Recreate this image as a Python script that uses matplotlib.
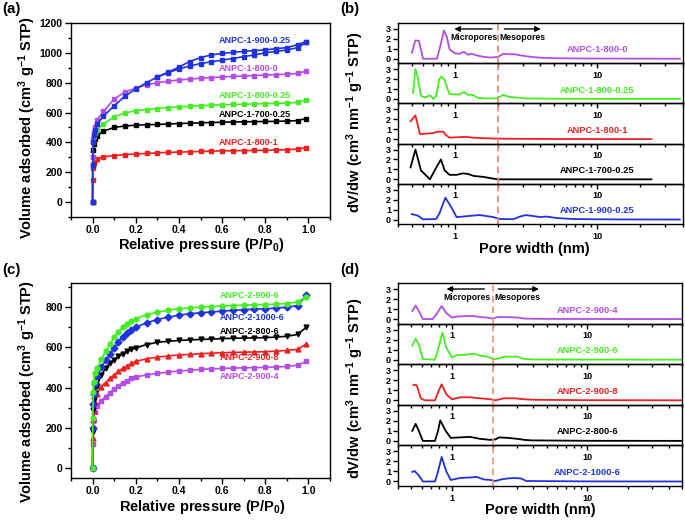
import numpy as np
import matplotlib.pyplot as plt
from matplotlib.ticker import MultipleLocator, FixedLocator, NullFormatter, FixedFormatter

plt.rcParams['font.family'] = ['Liberation Sans', 'DejaVu Sans']
plt.rcParams['font.weight'] = 'bold'
plt.rcParams['mathtext.fontset'] = 'custom'
plt.rcParams['mathtext.rm'] = 'Liberation Sans:bold'
plt.rcParams['mathtext.it'] = 'Liberation Sans:bold'
plt.rcParams['mathtext.bf'] = 'Liberation Sans:bold'
plt.rcParams['mathtext.default'] = 'rm'

W, H = 685, 523

VIOLET = '#b44ce6'
GREEN = '#44ee22'
RED = '#ee2020'
BLUE = '#1f33dd'
BLACK = '#000000'

# ---- (a) N2 isotherms, series 1 ----
p_a = [0.0, 0.001, 0.003, 0.005, 0.01, 0.02, 0.05, 0.10, 0.15, 0.20, 0.25, 0.30, 0.35,
       0.40, 0.45, 0.50, 0.55, 0.60, 0.65, 0.70, 0.75, 0.80, 0.85, 0.90, 0.95, 0.99]
a_800_1 = [0, 150, 230, 260, 280, 290, 302, 312, 318, 322, 326, 330, 333, 335, 337, 339,
           341, 343, 344, 345, 346, 347, 349, 351, 355, 365]
a_700_025 = [0, 250, 350, 390, 420, 445, 475, 500, 510, 515, 518, 520, 523, 526, 529, 531,
             533, 535, 537, 538, 539, 540, 541, 543, 546, 560]
a_800_025 = [0, 300, 400, 440, 460, 480, 525, 570, 598, 612, 620, 627, 633, 638, 642, 646,
             649, 652, 654, 656, 658, 660, 662, 664, 668, 687]
a_800_0 = [0, 300, 420, 470, 500, 550, 607, 690, 738, 763, 785, 800, 810, 818, 824, 830,
           834, 838, 842, 845, 848, 851, 854, 857, 862, 878]
a_900_025 = [0, 250, 400, 450, 480, 520, 575, 645, 710, 758, 800, 838, 867, 892, 912, 928,
             940, 951, 962, 975, 986, 1000, 1010, 1019, 1035, 1070]
p_a_des = [0.99, 0.95, 0.90, 0.85, 0.80, 0.75, 0.70, 0.65, 0.60, 0.55, 0.50, 0.45, 0.40, 0.35, 0.30]
a_900_025_des = [1075, 1055, 1035, 1028, 1020, 1015, 1010, 1003, 996, 986, 968, 942, 905, 870, 840]

a_labels = ['ANPC-1-900-0.25', 'ANPC-1-800-0', 'ANPC-1-800-0.25', 'ANPC-1-700-0.25', 'ANPC-1-800-1']
a_label_y = [1082, 894, 713, 589, 401]
a_colors = [BLUE, VIOLET, GREEN, BLACK, RED]

# ---- (c) N2 isotherms, series 2 ----
p_c = [0.0, 0.001, 0.003, 0.005, 0.01, 0.02, 0.04, 0.06, 0.08, 0.10, 0.12, 0.14, 0.16, 0.18,
       0.20, 0.25, 0.30, 0.35, 0.40, 0.45, 0.50, 0.55, 0.60, 0.65, 0.70, 0.75, 0.80, 0.85,
       0.90, 0.95, 0.99]
c_900_6 = [0, 250, 380, 430, 470, 495, 540, 580, 615, 650, 678, 700, 718, 730, 742, 762, 775,
           785, 792, 797, 800, 803, 806, 808, 810, 812, 813, 815, 818, 826, 850]
c_1000_6 = [0, 200, 320, 370, 420, 455, 500, 535, 565, 598, 628, 652, 672, 688, 700, 722, 738,
            750, 760, 767, 772, 776, 780, 784, 787, 790, 792, 795, 800, 808, 858]
c_800_6 = [0, 180, 290, 340, 375, 410, 460, 495, 520, 538, 555, 568, 580, 590, 597, 614, 625,
           630, 634, 637, 639, 641, 643, 645, 646, 647, 648, 651, 655, 664, 700]
c_900_8 = [0, 150, 240, 285, 330, 370, 405, 425, 445, 462, 480, 495, 508, 520, 530, 543, 551,
           557, 562, 565, 568, 571, 573, 575, 576, 577, 578, 581, 585, 590, 617]
c_900_4 = [0, 120, 200, 240, 280, 310, 335, 355, 375, 394, 410, 423, 435, 445, 452, 463, 470,
           477, 482, 486, 490, 493, 495, 497, 498, 499, 500, 502, 505, 511, 530]

c_labels = ['ANPC-2-900-6', 'ANPC-2-1000-6', 'ANPC-2-800-6', 'ANPC-2-900-8', 'ANPC-2-900-4']
c_label_y = [858, 747, 681, 547, 455]
c_colors = [GREEN, BLUE, BLACK, RED, VIOLET]

# ---- (b) pore size distributions, series 1 (top to bottom) ----
b_x = [
    [0.50, 0.53, 0.56, 0.60, 0.75, 0.79, 0.84, 0.88, 0.92, 1.00, 1.08, 1.16, 1.24, 1.30, 1.35,
     1.46, 1.58, 1.76, 1.91, 2.02, 2.19, 2.44, 2.64, 3.0, 3.4, 4.0, 5.2, 6.8, 10, 20, 38],
    [0.51, 0.53, 0.55, 0.58, 0.62, 0.67, 0.71, 0.74, 0.78, 0.81, 0.85, 0.88, 0.92, 1.0, 1.08,
     1.16, 1.24, 1.31, 1.38, 1.46, 1.67, 1.97, 2.19, 2.44, 3.2, 5, 10, 38],
    [0.49, 0.53, 0.57, 0.62, 0.70, 0.76, 0.83, 0.87, 0.92, 1.08, 1.2, 1.35, 1.58, 1.97, 3.0, 6, 24],
    [0.49, 0.53, 0.58, 0.67, 0.73, 0.80, 0.85, 0.92, 1.03, 1.14, 1.24, 1.35, 1.58, 1.81, 2.02, 5, 24],
    [0.50, 0.55, 0.60, 0.74, 0.78, 0.86, 0.95, 1.03, 1.14, 1.35, 1.50, 1.67, 1.86, 2.07, 2.57,
     2.87, 3.16, 3.56, 3.97, 4.4, 5.2, 6.8, 8.9, 15, 38],
]
b_y = [
    [0.60, 1.85, 1.8, 0.0, 0.0, 1.2, 2.85, 2.2, 0.95, 0.55, 0.5, 0.7, 0.4, 0.5, 0.45,
     0.3, 0.2, 0.12, 0.15, 0.2, 0.5, 0.45, 0.45, 0.3, 0.2, 0.1, 0.05, 0.03, 0.02, 0.01, 0.0],
    [0.6, 3.0, 2.2, 0.3, 0.15, 0.37, 0.0, 0.3, 2.0, 2.25, 1.9, 1.2, 0.5, 0.45, 0.45,
     0.7, 0.4, 0.45, 0.3, 0.1, 0.05, 0.05, 0.4, 0.2, 0.05, 0.02, 0.01, 0.0],
    [1.8, 2.4, 0.5, 0.55, 0.6, 0.75, 0.75, 0.4, 0.15, 0.2, 0.22, 0.15, 0.1, 0.05, 0.03, 0.01, 0.0],
    [1.2, 3.0, 0.9, 0.0, 1.0, 2.0, 0.9, 0.45, 0.45, 0.6, 0.55, 0.35, 0.25, 0.1, 0.0, 0.0, 0.0],
    [0.55, 0.4, 0.02, 0.05, 0.6, 2.2, 1.2, 0.25, 0.3, 0.4, 0.45, 0.35, 0.25, 0.05, 0.03,
     0.3, 0.45, 0.35, 0.25, 0.3, 0.15, 0.05, 0.03, 0.01, 0.0],
]
b_labels = ['ANPC-1-800-0', 'ANPC-1-800-0.25', 'ANPC-1-800-1', 'ANPC-1-700-0.25', 'ANPC-1-900-0.25']
b_colors = [VIOLET, GREEN, RED, BLACK, BLUE]

# ---- (d) pore size distributions, series 2 (top to bottom) ----
d_x = [
    [0.51, 0.54, 0.57, 0.61, 0.72, 0.77, 0.84, 0.91, 1.0, 1.08, 1.29, 1.45, 1.62, 1.82, 1.99,
     2.17, 2.58, 3.07, 3.44, 4.6, 10, 50],
    [0.51, 0.54, 0.57, 0.61, 0.75, 0.79, 0.85, 0.91, 1.0, 1.08, 1.29, 1.45, 1.62, 1.82, 2.04,
     2.17, 2.43, 2.73, 3.07, 3.34, 3.86, 10, 50],
    [0.52, 0.55, 0.59, 0.63, 0.75, 0.79, 0.84, 0.91, 1.0, 1.15, 1.36, 1.62, 1.93, 2.1, 2.43,
     2.89, 3.44, 4.1, 10, 50],
    [0.51, 0.54, 0.57, 0.61, 0.75, 0.79, 0.82, 0.90, 0.98, 1.15, 1.36, 1.62, 1.93, 2.1, 2.23,
     2.58, 3.07, 3.44, 3.86, 10, 50],
    [0.51, 0.53, 0.57, 0.61, 0.75, 0.79, 0.84, 0.91, 0.98, 1.15, 1.36, 1.53, 1.72, 1.93, 2.1,
     2.3, 2.58, 2.89, 3.24, 3.54, 10, 50],
]
d_y = [
    [0.8, 1.35, 0.8, 0.0, 0.0, 0.5, 1.3, 0.6, 0.15, 0.25, 0.3, 0.3, 0.2, 0.15, 0.05,
     0.2, 0.2, 0.15, 0.05, 0.02, 0.01, 0.0],
    [1.4, 2.1, 1.5, 0.05, 0.0, 1.0, 2.7, 1.2, 0.2, 0.45, 0.5, 0.6, 0.4, 0.3, 0.05,
     0.1, 0.3, 0.3, 0.3, 0.1, 0.02, 0.01, 0.0],
    [1.55, 1.5, 0.2, 0.0, 0.0, 0.8, 1.6, 0.6, 0.1, 0.3, 0.3, 0.2, 0.1, 0.0, 0.2,
     0.2, 0.1, 0.05, 0.01, 0.0],
    [1.0, 1.7, 1.0, 0.0, 0.0, 1.0, 2.05, 1.0, 0.3, 0.35, 0.4, 0.2, 0.1, 0.15, 0.35,
     0.3, 0.2, 0.1, 0.05, 0.01, 0.0],
    [0.95, 1.05, 0.6, 0.0, 0.0, 1.0, 2.45, 1.0, 0.15, 0.35, 0.4, 0.45, 0.2, 0.15, 0.05,
     0.2, 0.3, 0.35, 0.3, 0.05, 0.01, 0.0],
]
d_labels = ['ANPC-2-900-4', 'ANPC-2-900-6', 'ANPC-2-900-8', 'ANPC-2-800-6', 'ANPC-2-1000-6']
d_colors = [VIOLET, GREEN, RED, BLACK, BLUE]


def box(l, t, r, b):
    return [l / W, 1 - b / H, (r - l) / W, (b - t) / H]


def style_iso(ax, ylim, ymajor):
    ax.set_xlim(-0.1, 1.1)
    ax.set_ylim(*ylim)
    ax.xaxis.set_major_locator(MultipleLocator(0.2))
    ax.xaxis.set_minor_locator(MultipleLocator(0.1))
    ax.yaxis.set_major_locator(MultipleLocator(ymajor))
    ax.yaxis.set_minor_locator(MultipleLocator(ymajor / 2))
    ax.set_xticks([0.0, 0.2, 0.4, 0.6, 0.8, 1.0])
    ax.set_xticklabels(['0.0', '0.2', '0.4', '0.6', '0.8', '1.0'])
    ax.tick_params(which='both', direction='out', width=1, labelsize=7.5, pad=2)
    ax.tick_params(which='major', length=4)
    ax.tick_params(which='minor', length=2.5)
    for s in ax.spines.values():
        s.set_linewidth(1)


def stacked(l, t, r, b, xmax, xs, ys, labels, colors, line_color):
    n = len(xs)
    hh = (b - t) / n
    axes = []
    for i in range(n):
        ax = fig.add_axes(box(l, t + i * hh, r, t + (i + 1) * hh))
        ax.set_facecolor('none')
        ax.plot(xs[i], ys[i], color=colors[i], lw=1.3)
        ax.set_xscale('log')
        ax.set_xlim(0.4, xmax)
        ax.set_ylim(-0.45, 3.6)
        ax.set_yticks([0, 1, 2, 3])
        ax.xaxis.set_major_locator(FixedLocator([1, 10]))
        ax.xaxis.set_major_formatter(FixedFormatter(['1', '10']))
        minor = [v for v in [0.4, 0.5, 0.6, 0.7, 0.8, 0.9, 2, 3, 4, 5, 6, 7, 8, 9, 20, 30, 40, 50]
                 if v <= xmax]
        ax.xaxis.set_minor_locator(FixedLocator(minor))
        ax.xaxis.set_minor_formatter(NullFormatter())
        ax.tick_params(which='both', direction='out', width=1, labelsize=6.5, pad=1.5)
        ax.tick_params(which='major', length=3.5)
        ax.tick_params(which='minor', length=2)
        ax.tick_params(axis='x', pad=2)
        for s in ax.spines.values():
            s.set_linewidth(1)
        ax.axvline(2.0, color=line_color, lw=1.2, ls=(0, (4, 2.5)))
        ax.text(10, 0.9, labels[i], color=colors[i], fontsize=6.7, ha='center', va='center')
        axes.append(ax)
    return axes


fig = plt.figure(figsize=(6.85, 5.23), dpi=100)

# (a)
ax_a = fig.add_axes(box(71, 23, 330, 217))
ax_a.plot(p_a, a_800_1, color=RED, marker='s', ms=3, lw=1.2)
ax_a.plot(p_a, a_700_025, color=BLACK, marker='s', ms=3, lw=1.2)
ax_a.plot(p_a, a_800_025, color=GREEN, marker='s', ms=3, lw=1.2)
ax_a.plot(p_a, a_800_0, color=VIOLET, marker='s', ms=3, lw=1.2)
ax_a.plot(p_a, a_900_025, color=BLUE, marker='s', ms=3, lw=1.2)
ax_a.plot(p_a_des, a_900_025_des, color=BLUE, marker='s', ms=3, lw=1.2)
style_iso(ax_a, (-100, 1200), 200)
for lab, yy, col in zip(a_labels, a_label_y, a_colors):
    ax_a.text(0.585, yy, lab, color=col, fontsize=6.5, ha='left', va='center')
fig.text(27 / W, 1 - 128 / H, 'Volume adsorbed (cm$^3$ g$^{-1}$ STP)', rotation=90,
         ha='center', va='center', fontsize=10.5)
fig.text(201 / W, 1 - 245 / H, 'Relative pressure (P/P$_0$)', ha='center', va='center',
         fontsize=10.5)

# (c)
ax_c = fig.add_axes(box(71, 283, 330, 478))
for yv, col, mk in zip([c_900_4, c_900_8, c_800_6, c_1000_6, c_900_6],
                       [VIOLET, RED, BLACK, BLUE, GREEN], ['s', '^', 'v', 'D', 'o']):
    ax_c.plot(p_c, yv, color=col, marker=mk, ms=3.5, lw=1.2)
style_iso(ax_c, (-50, 920), 200)
for lab, yy, col in zip(c_labels, c_label_y, c_colors):
    ax_c.text(0.59, yy, lab, color=col, fontsize=6.5, ha='left', va='center')
fig.text(27 / W, 1 - 392 / H, 'Volume adsorbed (cm$^3$ g$^{-1}$ STP)', rotation=90,
         ha='center', va='center', fontsize=10.5)
fig.text(202 / W, 1 - 507 / H, 'Relative pressure (P/P$_0$)', ha='center', va='center',
         fontsize=10.5)

# (b)
axes_b = stacked(398, 23, 683, 224, 40, b_x, b_y, b_labels, b_colors, '#ee8070')
top = axes_b[0]
top.annotate('', xy=(0.95, 3.0), xytext=(1.91, 3.0),
             arrowprops=dict(arrowstyle='-|>', color='k', lw=1, mutation_scale=8))
top.annotate('', xy=(4.2, 3.0), xytext=(2.13, 3.0),
             arrowprops=dict(arrowstyle='-|>', color='k', lw=1, mutation_scale=8))
top.text(1.37, 2.15, 'Micropores', fontsize=6.2, ha='center', va='center')
top.text(3.0, 2.15, 'Mesopores', fontsize=6.2, ha='center', va='center')
fig.text(355 / W, 1 - 122 / H, 'dV/dw (cm$^3$ nm$^{-1}$ g$^{-1}$ STP)', rotation=90,
         ha='center', va='center', fontsize=10.5)
fig.text(534 / W, 1 - 249 / H, 'Pore width (nm)', ha='center', va='center', fontsize=10.5)

# (d)
axes_d = stacked(398, 283, 682, 486, 50, d_x, d_y, d_labels, d_colors, '#eb9575')
top = axes_d[0]
top.annotate('', xy=(0.87, 3.0), xytext=(1.82, 3.0),
             arrowprops=dict(arrowstyle='-|>', color='k', lw=1, mutation_scale=8))
top.annotate('', xy=(4.6, 3.0), xytext=(2.1, 3.0),
             arrowprops=dict(arrowstyle='-|>', color='k', lw=1, mutation_scale=8))
top.text(1.29, 2.2, 'Micropores', fontsize=6.2, ha='center', va='center')
top.text(3.06, 2.2, 'Mesopores', fontsize=6.2, ha='center', va='center')
fig.text(355 / W, 1 - 388 / H, 'dV/dw (cm$^3$ nm$^{-1}$ g$^{-1}$ STP)', rotation=90,
         ha='center', va='center', fontsize=10.5)
fig.text(540 / W, 1 - 510 / H, 'Pore width (nm)', ha='center', va='center', fontsize=10.5)

# panel letters
for lab, x, y in [('(a)', 2, 9), ('(b)', 340, 9), ('(c)', 2, 270), ('(d)', 340, 270)]:
    fig.text(x / W, 1 - y / H, lab, ha='left', va='center', fontsize=10.8)

fig.savefig('out.png', dpi=100)
